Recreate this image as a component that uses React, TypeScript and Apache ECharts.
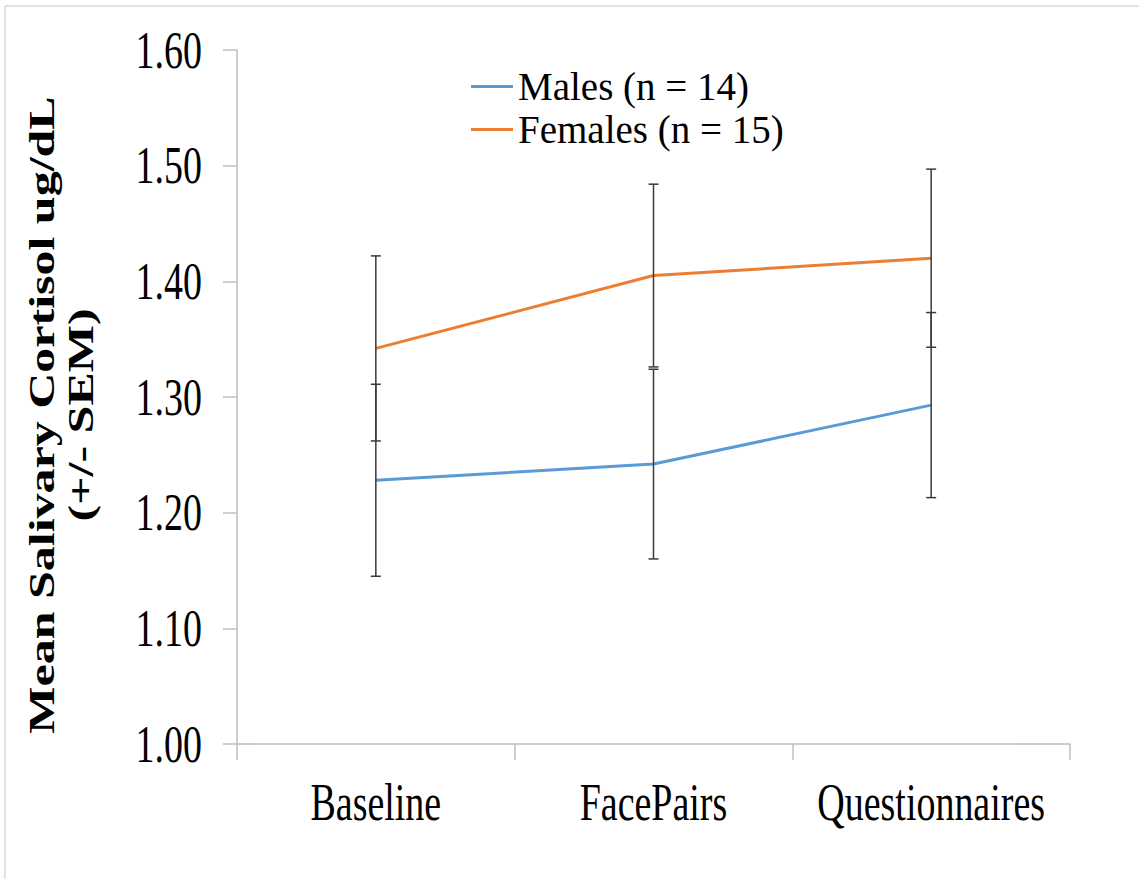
import React, { useEffect, useRef } from "react";
import * as echarts from "echarts";

// Study phases on the x axis
const phases = ["Baseline", "FacePairs", "Questionnaires"];

// Mean salivary cortisol (ug/dL) and standard error per phase
const maleMeans = [1.228, 1.242, 1.293];
const maleSem = [0.083, 0.082, 0.08];
const femaleMeans = [1.342, 1.405, 1.42];
const femaleSem = [0.08, 0.079, 0.077];

// Value-axis ticks
const yTicks = [1.0, 1.1, 1.2, 1.3, 1.4, 1.5, 1.6];

const maleLabel = "Males (n = 14)";
const femaleLabel = "Females (n = 15)";
const yTitle = "Mean Salivary Cortisol ug/dL\n(+/- SEM)";

const SERIF = '"Liberation Serif", "Times New Roman", Times, serif';
const NARROW = 0.73; // horizontal squeeze of the axis lettering
const AXIS_GREY = "#bfbfbf";
const BAR_COLOR = "#3a3a3a";

const GRID_LEFT = 237;
const GRID_TOP = 50;
const GRID_RIGHT = 69;
const GRID_BOTTOM = 135;

const errorRows = (means: number[], sem: number[]) =>
  means.map((m, i) => [i, m - sem[i], m + sem[i]]);

const errorBarSeries = (name: string, means: number[], sem: number[]) => ({
  type: "custom",
  name: name + " SEM",
  z: 5,
  data: errorRows(means, sem),
  encode: { x: 0, y: [1, 2] },
  renderItem: (params: any, api: any) => {
    const idx = api.value(0);
    const lo = api.coord([idx, api.value(1)]);
    const hi = api.coord([idx, api.value(2)]);
    const cap = 5;
    const style = { stroke: BAR_COLOR, lineWidth: 1.5 };
    return {
      type: "group",
      children: [
        { type: "line", shape: { x1: lo[0], y1: lo[1], x2: hi[0], y2: hi[1] }, style },
        { type: "line", shape: { x1: lo[0] - cap, y1: lo[1], x2: lo[0] + cap, y2: lo[1] }, style },
        { type: "line", shape: { x1: hi[0] - cap, y1: hi[1], x2: hi[0] + cap, y2: hi[1] }, style },
      ],
    };
  },
});

export default function App() {
  const ref = useRef<HTMLDivElement>(null);

  useEffect(() => {
    if (!ref.current) return;
    const chart = echarts.init(ref.current, null, { renderer: "svg" });

    chart.setOption({
      animation: false,
      backgroundColor: "#ffffff",
      grid: { left: GRID_LEFT, right: GRID_RIGHT, top: GRID_TOP, bottom: GRID_BOTTOM },
      legend: {
        data: [maleLabel, femaleLabel],
        orient: "vertical",
        left: 466,
        top: 62,
        icon: "rect",
        itemWidth: 42,
        itemHeight: 3,
        itemGap: 4,
        textStyle: { fontFamily: SERIF, fontSize: 39, lineHeight: 39, color: "#000" },
      },
      xAxis: {
        type: "category",
        data: phases,
        boundaryGap: true,
        axisLine: { show: true, lineStyle: { color: AXIS_GREY, width: 1.5 } },
        axisTick: { show: true, length: 16, alignWithLabel: false, lineStyle: { color: AXIS_GREY, width: 1.5 } },
        axisLabel: { show: false },
        splitLine: { show: false },
      },
      yAxis: {
        type: "value",
        min: 1.0,
        max: 1.6,
        interval: 0.1,
        axisLine: { show: true, lineStyle: { color: AXIS_GREY, width: 1.5 } },
        axisTick: { show: true, length: 14, lineStyle: { color: AXIS_GREY, width: 1.5 } },
        axisLabel: { show: false },
        splitLine: { show: false },
      },
      series: [
        {
          name: maleLabel,
          type: "line",
          data: maleMeans,
          showSymbol: false,
          symbol: "none",
          color: "#5b9bd5",
          lineStyle: { width: 3, color: "#5b9bd5" },
          z: 3,
        },
        {
          name: femaleLabel,
          type: "line",
          data: femaleMeans,
          showSymbol: false,
          symbol: "none",
          color: "#ed7d31",
          lineStyle: { width: 3, color: "#ed7d31" },
          z: 3,
        },
        errorBarSeries("Males", maleMeans, maleSem),
        errorBarSeries("Females", femaleMeans, femaleSem),
      ],
    });

    // Axis lettering placed from the axes' own scales, squeezed horizontally
    const tickText = yTicks.map((v) => ({
      type: "text",
      x: GRID_LEFT - 35,
      y: chart.convertToPixel({ yAxisIndex: 0 }, v) as number,
      scaleX: NARROW,
      style: {
        text: v.toFixed(2),
        fontFamily: SERIF,
        fontSize: 52,
        fill: "#000",
        align: "right",
        textAlign: "right",
        verticalAlign: "middle",
        textVerticalAlign: "middle",
      },
    }));

    const axisBottom = chart.convertToPixel({ yAxisIndex: 0 }, yTicks[0]) as number;
    const phaseText = phases.map((p) => ({
      type: "text",
      x: chart.convertToPixel({ xAxisIndex: 0 }, p) as number,
      y: axisBottom + 58,
      scaleX: NARROW,
      style: {
        text: p,
        fontFamily: SERIF,
        fontSize: 52,
        fill: "#000",
        align: "center",
        textAlign: "center",
        verticalAlign: "middle",
        textVerticalAlign: "middle",
      },
    }));

    chart.setOption({
      graphic: [
        { type: "line", shape: { x1: 5, y1: 6, x2: 1139, y2: 6 }, style: { stroke: "#d9d9d9", lineWidth: 1.5 } },
        { type: "line", shape: { x1: 5, y1: 6, x2: 5, y2: 879 }, style: { stroke: "#d9d9d9", lineWidth: 1.5 } },
        ...tickText,
        ...phaseText,
        {
          type: "text",
          x: 61,
          y: 415,
          rotation: Math.PI / 2,
          scaleY: NARROW,
          style: {
            text: yTitle,
            fontFamily: SERIF,
            fontSize: 50,
            fontWeight: "bold",
            lineHeight: 54,
            fill: "#000",
            align: "center",
            textAlign: "center",
            verticalAlign: "middle",
            textVerticalAlign: "middle",
          },
        },
      ],
    });

    return () => chart.dispose();
  }, []);

  return (
    <div
      ref={ref}
      style={{ position: "fixed", left: 0, top: 0, width: 1139, height: 879, background: "#fff" }}
    />
  );
}
